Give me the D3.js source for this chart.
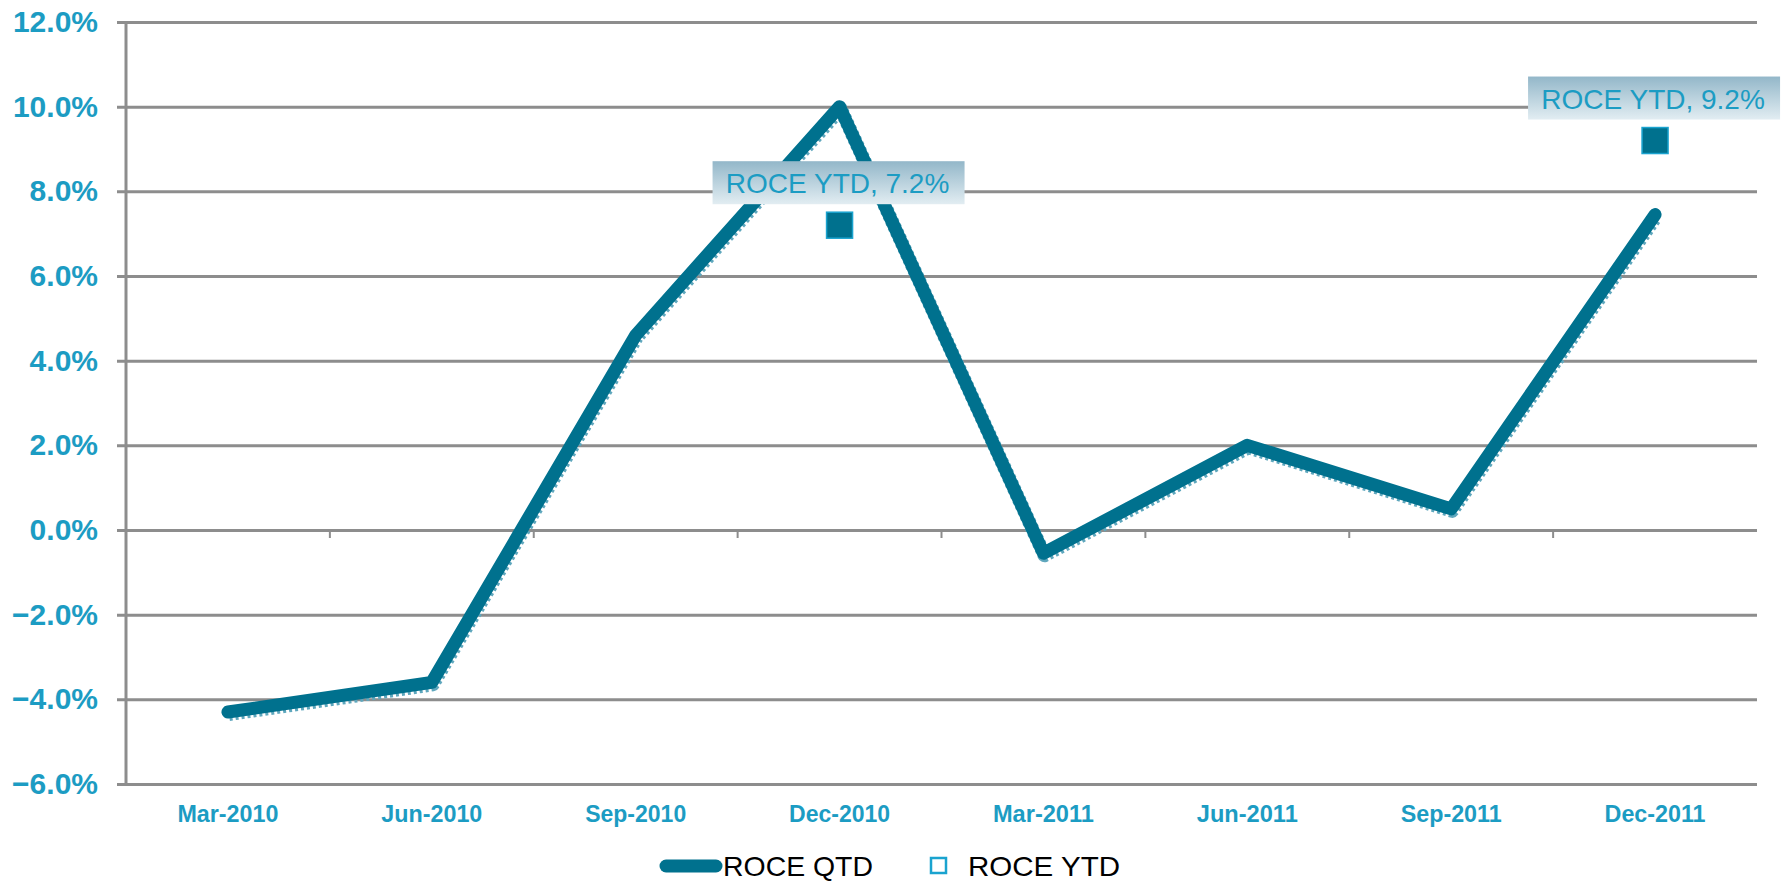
<!DOCTYPE html>
<html>
<head>
<meta charset="utf-8">
<script src="https://cdn.jsdelivr.net/npm/d3@7"></script>
<style>
  body { margin: 0; background: #fff; }
  .chart { width: 1789px; height: 883px; }
  text { font-family: "Liberation Sans", Arial, sans-serif; }
</style>
</head>
<body>
<div class="chart"></div>
<script>
// data
const categories = [`Mar-2010`, `Jun-2010`, `Sep-2010`, `Dec-2010`, `Mar-2011`, `Jun-2011`, `Sep-2011`, `Dec-2011`];
const roceQtd = [-4.3, -3.6, 4.6, 10.0, -0.55, 2.0, 0.5, 7.45];
const roceYtd = [null, null, null, 7.2, null, null, null, 9.2];
const yTicks = [-6, -4, -2, 0, 2, 4, 6, 8, 10, 12];

const lineColor = `#00718e`,
  textBlue = `#1c9cc3`,
  gridColor = `#8d8d8d`;

const margin = {top: 22, right: 32, bottom: 99, left: 126},
  width = 1789 - margin.left - margin.right,
  height = 883 - margin.top - margin.bottom,
  x = d3.scaleBand().domain(categories).range([0, width]),
  y = d3.scaleLinear().domain([-6, 12]).range([height, 0]);

const svg = d3.select(`.chart`).append(`svg`)
  .attr(`width`, 1789)
  .attr(`height`, 883);

const defs = svg.append(`defs`);
const grad = defs.append(`linearGradient`)
  .attr(`id`, `boxGrad`).attr(`x1`, 0).attr(`y1`, 0).attr(`x2`, 0).attr(`y2`, 1);
grad.append(`stop`).attr(`offset`, `0%`).attr(`stop-color`, `#93b7c9`);
grad.append(`stop`).attr(`offset`, `100%`).attr(`stop-color`, `#e2edf2`);

const g = svg.append(`g`)
  .attr(`transform`, `translate(` + margin.left + `,` + margin.top + `)`);

// сетка и ось y
const yAxis = g.append(`g`)
  .call(d3.axisLeft(y).tickValues(yTicks).tickSize(-width).tickPadding(20)
    .tickFormat(d => d3.format(`.1f`)(d) + `%`));
yAxis.select(`.domain`).remove();
yAxis.selectAll(`.tick line`)
  .attr(`x1`, -9)
  .attr(`stroke`, gridColor)
  .attr(`stroke-width`, 3);
yAxis.selectAll(`.tick text`)
  .attr(`fill`, textBlue)
  .attr(`font-size`, `30px`)
  .attr(`font-weight`, `bold`)
  .attr(`x`, -28);

g.append(`line`)
  .attr(`x1`, 0).attr(`x2`, 0)
  .attr(`y1`, 0).attr(`y2`, height)
  .attr(`stroke`, gridColor)
  .attr(`stroke-width`, 3);

// засечки категорий на нулевой линии
g.append(`g`).selectAll(`line`)
  .data(categories.slice(1))
  .enter().append(`line`)
  .attr(`x1`, d => x(d)).attr(`x2`, d => x(d))
  .attr(`y1`, y(0)).attr(`y2`, y(0) + 8)
  .attr(`stroke`, gridColor)
  .attr(`stroke-width`, 2);

// подписи оси x
g.append(`g`)
  .attr(`transform`, `translate(0,` + height + `)`)
  .selectAll(`text`)
  .data(categories)
  .enter().append(`text`)
  .attr(`x`, d => x(d) + x.bandwidth() / 2)
  .attr(`y`, 38)
  .attr(`text-anchor`, `middle`)
  .attr(`fill`, textBlue)
  .attr(`font-size`, `24px`)
  .attr(`font-weight`, `bold`)
  .attr(`textLength`, 101)
  .attr(`lengthAdjust`, `spacingAndGlyphs`)
  .text(d => d);

// линия ROCE QTD
const line = d3.line()
  .x((d, i) => x(categories[i]) + x.bandwidth() / 2)
  .y(d => y(d));

g.append(`path`)
  .datum(roceQtd)
  .attr(`fill`, `none`)
  .attr(`stroke`, `#5fa7bd`)
  .attr(`stroke-width`, 14)
  .attr(`stroke-dasharray`, `3 3`)
  .attr(`stroke-linejoin`, `round`)
  .attr(`transform`, `translate(1,2)`)
  .attr(`d`, line);

g.append(`path`)
  .datum(roceQtd)
  .attr(`fill`, `none`)
  .attr(`stroke`, lineColor)
  .attr(`stroke-width`, 13)
  .attr(`stroke-linejoin`, `round`)
  .attr(`stroke-linecap`, `round`)
  .attr(`d`, line);

// маркеры ROCE YTD с подписями
const ytd = roceYtd.map((v, i) => ({c: categories[i], v: v})).filter(d => d.v !== null);
const pts = g.selectAll(`.ytd`)
  .data(ytd)
  .enter().append(`g`)
  .attr(`class`, `ytd`)
  .attr(`transform`, d => `translate(` + (x(d.c) + x.bandwidth() / 2) + `,` + y(d.v) + `)`);

pts.append(`rect`)
  .attr(`x`, -13).attr(`y`, -13)
  .attr(`width`, 26).attr(`height`, 26)
  .attr(`fill`, lineColor)
  .attr(`stroke`, `#1aa3cf`)
  .attr(`stroke-width`, 1.5);

pts.append(`rect`)
  .attr(`x`, -127).attr(`y`, -64)
  .attr(`width`, 252).attr(`height`, 43)
  .attr(`fill`, `url(#boxGrad)`);

pts.append(`text`)
  .attr(`x`, -2).attr(`y`, -32)
  .attr(`text-anchor`, `middle`)
  .attr(`fill`, textBlue)
  .attr(`font-size`, `28px`)
  .text(d => `ROCE YTD, ` + d3.format(`.1f`)(d.v) + `%`);

// легенда
const legend = svg.append(`g`).attr(`transform`, `translate(0,866)`);
legend.append(`line`)
  .attr(`x1`, 666).attr(`x2`, 716)
  .attr(`stroke`, lineColor)
  .attr(`stroke-width`, 13)
  .attr(`stroke-linecap`, `round`);
legend.append(`text`)
  .attr(`x`, 723).attr(`y`, 10)
  .attr(`font-size`, `28px`)
  .attr(`fill`, `#000`)
  .attr(`textLength`, 150)
  .attr(`lengthAdjust`, `spacingAndGlyphs`)
  .text(`ROCE QTD`);
legend.append(`rect`)
  .attr(`x`, 931).attr(`y`, -8)
  .attr(`width`, 15).attr(`height`, 15)
  .attr(`fill`, `#fff`)
  .attr(`stroke`, `#1aa3cf`)
  .attr(`stroke-width`, 2.5);
legend.append(`text`)
  .attr(`x`, 968).attr(`y`, 10)
  .attr(`font-size`, `28px`)
  .attr(`fill`, `#000`)
  .attr(`textLength`, 152)
  .attr(`lengthAdjust`, `spacingAndGlyphs`)
  .text(`ROCE YTD`);
</script>
</body>
</html>
